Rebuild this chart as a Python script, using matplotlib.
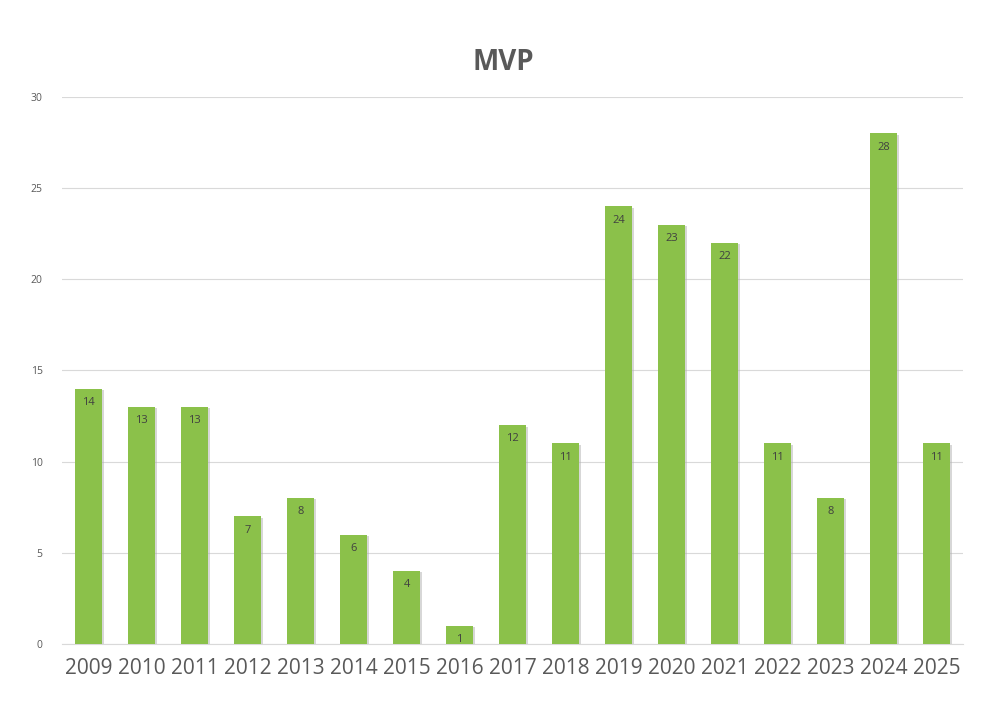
import matplotlib
matplotlib.use("Agg")
from matplotlib import pyplot as plt
import matplotlib.patheffects as pe

years = ["2009", "2010", "2011", "2012", "2013", "2014", "2015", "2016", "2017",
         "2018", "2019", "2020", "2021", "2022", "2023", "2024", "2025"]
mvp = [14, 13, 13, 7, 8, 6, 4, 1, 12, 11, 24, 23, 22, 11, 8, 28, 11]

plt.rcParams['font.family'] = ['Open Sans', 'DejaVu Sans']

fig = plt.figure(figsize=(10, 7.2), dpi=100)
ax = fig.add_axes([0.062, 0.1056, 0.901, 0.7597])

xs = list(range(len(years)))
bars = ax.bar(xs, mvp, width=0.52, color='#8BC14A', zorder=3)
# soft shadow like the office chart
for b in bars:
    b.set_path_effects([pe.SimplePatchShadow(offset=(1.5, -1), shadow_rgbFace='#b0b0b0', alpha=0.5),
                        pe.Normal()])

for x, v in zip(xs, mvp):
    ax.text(x, v - 0.45, str(v), ha='center', va='top', fontsize=8,
            color='#404040', zorder=4)

ax.set_xlim(-0.5, len(years) - 0.5)
ax.set_ylim(0, 30)
ax.set_yticks([0, 5, 10, 15, 20, 25, 30])
ax.set_xticks(xs)
ax.set_xticklabels(years, fontsize=15, color='#595959')
ax.tick_params(axis='y', labelsize=7.5, colors='#595959', length=0, pad=14)
ax.tick_params(axis='x', length=0, pad=10)
ax.grid(axis='y', color='#d9d9d9', linewidth=0.8, zorder=0)
for s in ['top', 'right', 'left']:
    ax.spines[s].set_visible(False)
ax.spines['bottom'].set_color('#d9d9d9')

fig.text(0.503, 0.913, "MVP", ha='center', va='center', fontsize=20,
         fontweight='bold', color='#595959')

fig.savefig("out.png")
